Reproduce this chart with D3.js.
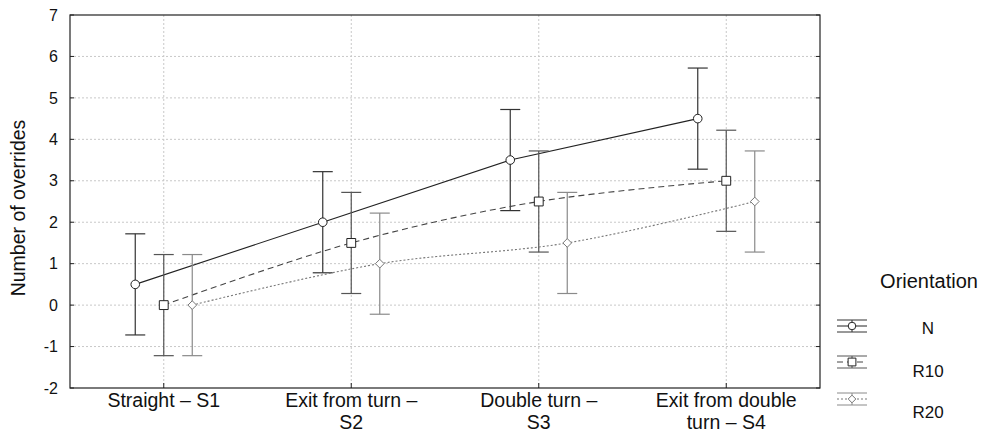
<!DOCTYPE html>
<meta charset="utf-8">
<style>
    body { margin: 0; background: #fff; }
    text { font-family: "Liberation Sans", Arial, sans-serif; fill: #111; }
    .grid line { stroke: #c8c8c8; stroke-dasharray: 2,2; }
</style>
<svg width="981" height="434"></svg>
<script src="https://cdn.jsdelivr.net/npm/d3@7"></script>
<script>

    var categories = ["Straight \u2013 S1", "Exit from turn \u2013|S2", "Double turn \u2013|S3", "Exit from double|turn \u2013 S4"];
    var seriesNames = ["N", "R10", "R20"];
    var meanN = [0.5, 2, 3.5, 4.5];
    var meanR10 = [0, 1.5, 2.5, 3];
    var meanR20 = [0, 1, 1.5, 2.5];
    var ciHalf = [1.22, 1.22, 1.22, 1.22];
    var yTicks = [-2, -1, 0, 1, 2, 3, 4, 5, 6, 7];

    var svg = d3.select("svg"),
        margin = {top: 15, right: 161, bottom: 46, left: 70},
        width = +svg.attr("width") - margin.left - margin.right,
        height = +svg.attr("height") - margin.top - margin.bottom;

    var x = d3.scaleBand().domain(categories).range([0, width]);
    var y = d3.scaleLinear().domain([-2, 7]).range([height, 0]);

    var series = [
        {name: seriesNames[0], values: meanN, offset: -28.5, dash: null, line: "#222", bar: "#333", marker: "circle", curve: d3.curveLinear},
        {name: seriesNames[1], values: meanR10, offset: 0, dash: "6,4", line: "#444", bar: "#555", marker: "square", curve: d3.curveCatmullRom.alpha(0.5)},
        {name: seriesNames[2], values: meanR20, offset: 28.5, dash: "2,2", line: "#777", bar: "#8a8a8a", marker: "diamond", curve: d3.curveCatmullRom.alpha(0.5)}
    ];

    var g = svg.append("g").attr("transform", "translate(" + margin.left + "," + margin.top + ")");

    // grid
    var grid = g.append("g").attr("class", "grid");
    grid.selectAll(".h").data(yTicks.slice(1, -1)).enter().append("line")
        .attr("x1", 0).attr("x2", width)
        .attr("y1", function(d) { return y(d); }).attr("y2", function(d) { return y(d); });
    grid.selectAll(".v").data(categories).enter().append("line")
        .attr("x1", function(d) { return x(d) + x.bandwidth() / 2; })
        .attr("x2", function(d) { return x(d) + x.bandwidth() / 2; })
        .attr("y1", 0).attr("y2", height);

    // frame
    g.append("rect").attr("width", width).attr("height", height)
        .attr("fill", "none").attr("stroke", "#222").attr("stroke-width", 1.2);

    // y axis (plain hyphen for negatives, as in the original)
    var yAxis = d3.axisLeft(y).tickValues(yTicks).tickSize(0).tickPadding(12)
        .tickFormat(function(d) { return String(d); });
    var ya = g.append("g").call(yAxis);
    ya.select(".domain").remove();
    ya.selectAll("text").style("font-size", "16px").attr("fill", "#111");

    // inner ticks left and right
    [0, width - 4].forEach(function(x0) {
        g.selectAll(null).data(yTicks).enter().append("line")
            .attr("x1", x0).attr("x2", x0 + 4)
            .attr("y1", function(d) { return y(d); }).attr("y2", function(d) { return y(d); })
            .attr("stroke", "#222");
    });

    // bottom ticks
    g.selectAll(".bt").data(categories).enter().append("line")
        .attr("x1", function(d) { return x(d) + x.bandwidth() / 2; })
        .attr("x2", function(d) { return x(d) + x.bandwidth() / 2; })
        .attr("y1", height - 5).attr("y2", height)
        .attr("stroke", "#222");

    // x labels
    var xl = g.selectAll(".xl").data(categories).enter().append("text")
        .attr("text-anchor", "middle")
        .attr("transform", function(d) { return "translate(" + (x(d) + x.bandwidth() / 2) + "," + (height + 19) + ")"; })
        .style("font-size", "19.5px");
    xl.each(function(d) {
        var parts = d.split("|");
        var t = d3.select(this);
        parts.forEach(function(p, i) {
            t.append("tspan").attr("x", 0).attr("y", i * 22).text(p);
        });
    });

    // y label
    svg.append("text")
        .attr("transform", "translate(25," + (margin.top + 193) + ") rotate(-90)")
        .attr("text-anchor", "middle")
        .style("font-size", "19.5px")
        .text("Number of overrides");

    function markerPath(type, size) {
        if (type === "circle") return d3.symbol().type(d3.symbolCircle).size(size)();
        if (type === "square") return d3.symbol().type(d3.symbolSquare).size(size * 1.35)();
        var r = Math.sqrt(size) * 0.57;
        return "M0," + (-r) + "L" + r + ",0L0," + r + "L" + (-r) + ",0Z";
    }

    series.forEach(function(s) {
        var line = d3.line().curve(s.curve);
        var pts = s.values.map(function(v, i) {
            return [x(categories[i]) + x.bandwidth() / 2 + s.offset, y(v)];
        });
        g.append("path")
            .attr("d", line(pts))
            .attr("fill", "none")
            .attr("stroke", s.line)
            .attr("stroke-width", 1.1)
            .attr("stroke-dasharray", s.dash);

        var bars = g.append("g").attr("stroke", s.bar).attr("stroke-width", 1.2);
        s.values.forEach(function(v, i) {
            var cx = pts[i][0];
            var lo = y(v - ciHalf[i]), hi = y(v + ciHalf[i]);
            bars.append("line").attr("x1", cx).attr("x2", cx).attr("y1", lo).attr("y2", hi);
            bars.append("line").attr("x1", cx - 10).attr("x2", cx + 10).attr("y1", lo).attr("y2", lo);
            bars.append("line").attr("x1", cx - 10).attr("x2", cx + 10).attr("y1", hi).attr("y2", hi);
        });

        g.selectAll(null).data(pts).enter().append("path")
            .attr("transform", function(d) { return "translate(" + d[0] + "," + d[1] + ")"; })
            .attr("d", markerPath(s.marker, 58))
            .attr("fill", "#fff")
            .attr("stroke", s.marker === "diamond" ? "#777" : "#222")
            .attr("stroke-width", 1);
    });

    // legend
    var legend = svg.append("g");
    legend.append("text").attr("x", 929).attr("y", 288)
        .attr("text-anchor", "middle").style("font-size", "20px").text("Orientation");

    var legY = [326, 362, 399], labY = [334, 377, 418];
    series.forEach(function(s, i) {
        var lg = legend.append("g").attr("transform", "translate(852," + legY[i] + ")");
        lg.append("line").attr("x1", -15).attr("x2", 15).attr("y1", -6).attr("y2", -6).attr("stroke", s.bar);
        lg.append("line").attr("x1", -15).attr("x2", 15).attr("y1", 6).attr("y2", 6).attr("stroke", s.bar);
        lg.append("line").attr("x1", 0).attr("x2", 0).attr("y1", -6).attr("y2", 6).attr("stroke", s.bar);
        lg.append("line").attr("x1", -15).attr("x2", 15).attr("y1", 0).attr("y2", 0)
            .attr("stroke", s.line).attr("stroke-dasharray", s.dash);
        lg.append("path").attr("d", markerPath(s.marker, 45))
            .attr("fill", "#fff").attr("stroke", s.marker === "diamond" ? "#777" : "#222");
        legend.append("text").attr("x", 928).attr("y", labY[i])
            .attr("text-anchor", "middle").style("font-size", "17px").text(s.name);
    });

</script>
